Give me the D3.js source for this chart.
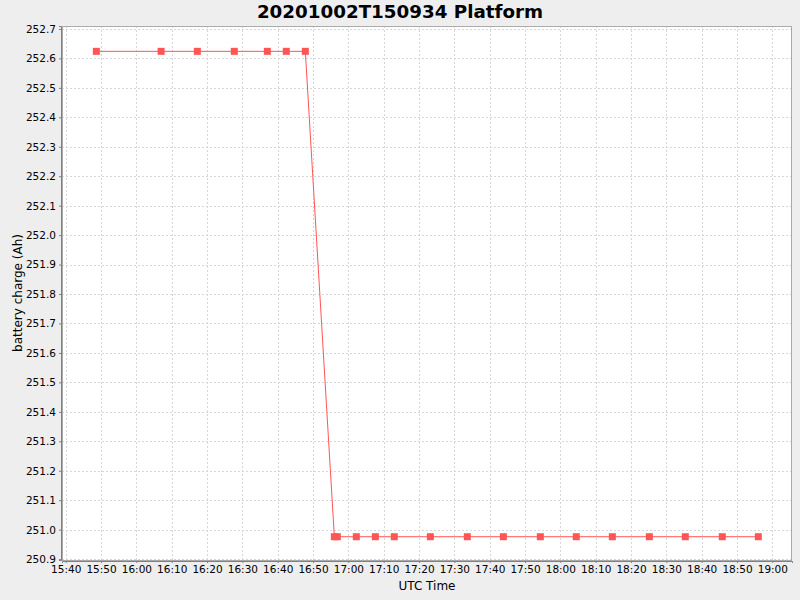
<!DOCTYPE html>
<html>
<head>
<meta charset="utf-8">
<script src="https://cdn.jsdelivr.net/npm/d3@7"></script>
<style>
  body { margin: 0; background: #eeeeee; }
  text { font-family: "DejaVu Sans", sans-serif; }
</style>
</head>
<body>
<div id="vis"></div>
<script>
// Data (UTC, 2020-10-02)
const times = [
    '15:48:40', '16:07:00', '16:17:15', '16:27:43', '16:37:04', '16:42:26', '16:47:49',
    '16:56:02', '16:56:53', '17:02:15', '17:07:38', '17:13:00', '17:23:12', '17:33:40',
    '17:43:52', '17:54:20', '18:04:30', '18:14:43', '18:25:11', '18:35:22', '18:45:50',
    '18:56:02'
];
const charge = [
    252.624, 252.624, 252.624, 252.624, 252.624, 252.624, 252.624,
    250.976, 250.976, 250.976, 250.976, 250.976, 250.976, 250.976,
    250.976, 250.976, 250.976, 250.976, 250.976, 250.976, 250.976,
    250.976
];
const yTicks = d3.range(250.9, 252.71, 0.1);

const titleText = '20201002T150934 Platform';
const xLabel = 'UTC Time';
const yLabel = 'battery charge (Ah)';

// Layout
const W = 800, H = 600;
const margin = { top: 26, right: 8, bottom: 40, left: 62 };
const width = W - margin.left - margin.right;
const height = H - margin.top - margin.bottom;

const parseT = d3.utcParse('%Y-%m-%d %H:%M:%S');
const data = times.map((t, i) => ({ t: parseT('2020-10-02 ' + t), v: charge[i] }));

const xScale = d3.scaleUtc()
    .domain([parseT('2020-10-02 15:38:57'), parseT('2020-10-02 19:05:34')])
    .range([0, width]);
const yScale = d3.scaleLinear()
    .domain([250.897, 252.710])
    .range([height, 0]);

const svg = d3.select('#vis').append('svg')
    .attr('width', W)
    .attr('height', H);

svg.append('rect').attr('width', W).attr('height', H).attr('fill', '#eeeeee');

const g = svg.append('g')
    .attr('transform', `translate(${margin.left},${margin.top})`);

// plot background
g.append('rect')
    .attr('width', width)
    .attr('height', height)
    .attr('fill', '#ffffff');

const xTicks = xScale.ticks(d3.utcMinute.every(10));

// gridlines
g.append('g').selectAll('line')
    .data(xTicks)
    .join('line')
    .attr('x1', d => Math.round(xScale(d)) + 0.5)
    .attr('x2', d => Math.round(xScale(d)) + 0.5)
    .attr('y1', 0)
    .attr('y2', height)
    .attr('stroke', '#d6d6d6')
    .attr('stroke-dasharray', '2,2');

g.append('g').selectAll('line')
    .data(yTicks)
    .join('line')
    .attr('x1', 0)
    .attr('x2', width)
    .attr('y1', d => Math.round(yScale(d)) + 0.5)
    .attr('y2', d => Math.round(yScale(d)) + 0.5)
    .attr('stroke', '#d6d6d6')
    .attr('stroke-dasharray', '2,2');

// plot outline
g.append('rect')
    .attr('x', 0.5)
    .attr('y', 0.5)
    .attr('width', width - 1)
    .attr('height', height)
    .attr('fill', 'none')
    .attr('stroke', '#aaaaaa');

// axes
const xAxis = d3.axisBottom(xScale)
    .tickValues(xTicks)
    .tickFormat(d3.utcFormat('%H:%M'))
    .tickSize(2)
    .tickPadding(3);
const yAxis = d3.axisLeft(yScale)
    .tickValues(yTicks)
    .tickFormat(d3.format('.1f'))
    .tickSize(2)
    .tickPadding(3);

const gx = g.append('g')
    .attr('transform', `translate(0,${height + 1})`)
    .call(xAxis);
const gy = g.append('g')
    .attr('transform', 'translate(-1,0)')
    .call(yAxis);

[gx, gy].forEach(a => {
    a.select('.domain').attr('stroke', '#808080');
    a.selectAll('.tick line').attr('stroke', '#808080');
    a.selectAll('.tick text')
        .attr('fill', '#000')
        .style('font-size', '10.5px')
        .style('font-family', '"DejaVu Sans", sans-serif');
});

// series line
const line = d3.line()
    .x(d => xScale(d.t))
    .y(d => yScale(d.v));

g.append('path')
    .datum(data)
    .attr('d', line)
    .attr('fill', 'none')
    .attr('stroke', '#ff5555')
    .attr('stroke-width', 1);

// square markers
g.append('g').selectAll('rect')
    .data(data)
    .join('rect')
    .attr('x', d => xScale(d.t) - 3.5)
    .attr('y', d => yScale(d.v) - 3.5)
    .attr('width', 7)
    .attr('height', 7)
    .attr('fill', '#ff5555');

// title
svg.append('text')
    .attr('x', W / 2)
    .attr('y', 18)
    .attr('text-anchor', 'middle')
    .style('font-size', '18.3px')
    .style('font-weight', 'bold')
    .text(titleText);

// axis labels
svg.append('text')
    .attr('x', margin.left + width / 2)
    .attr('y', 590)
    .attr('text-anchor', 'middle')
    .style('font-size', '12px')
    .text(xLabel);

svg.append('text')
    .attr('transform', 'rotate(-90)')
    .attr('x', -(margin.top + height / 2))
    .attr('y', 22)
    .attr('text-anchor', 'middle')
    .style('font-size', '12px')
    .text(yLabel);
</script>
</body>
</html>
